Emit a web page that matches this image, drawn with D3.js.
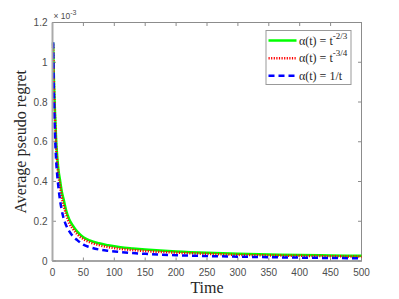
<!DOCTYPE html>
<html>
<head>
<meta charset="utf-8">
<script src="https://cdn.jsdelivr.net/npm/d3@7"></script>
<style>
	body { margin: 0; background: #fff; }
	.tick-label { font-family: 'Liberation Sans', Arial, sans-serif; font-size: 10px; fill: #4d4d4d; }
	.axis-title { font-family: 'Liberation Serif', 'Times New Roman', serif; font-size: 16px; fill: #262626; }
	.legend-text { font-family: 'Liberation Serif', 'Times New Roman', serif; font-size: 12px; fill: #262626; }
</style>
</head>
<body>
<script>
// time steps where values were read
var times = [1, 2, 3, 4, 6, 8, 10, 12, 15, 18, 22, 27, 33, 40, 50, 60, 75, 90, 110, 130, 150, 200, 250, 300, 350, 400, 450, 500];
// average pseudo regret (x 1e-3)
var regretT23 = [1.10, 0.95, 0.84, 0.75, 0.60, 0.51, 0.45, 0.41, 0.35, 0.31, 0.255, 0.21, 0.178, 0.148, 0.120, 0.104, 0.089, 0.079, 0.069, 0.063, 0.058, 0.048, 0.041, 0.036, 0.033, 0.030, 0.028, 0.026];
var regretT34 = [1.09, 0.93, 0.81, 0.72, 0.57, 0.48, 0.42, 0.38, 0.32, 0.28, 0.235, 0.19, 0.162, 0.135, 0.110, 0.095, 0.080, 0.070, 0.061, 0.055, 0.050, 0.042, 0.036, 0.031, 0.028, 0.026, 0.024, 0.022];
var regret1t = [1.10, 0.88, 0.74, 0.64, 0.50, 0.42, 0.36, 0.31, 0.255, 0.215, 0.18, 0.15, 0.125, 0.105, 0.082, 0.070, 0.058, 0.051, 0.045, 0.040, 0.036, 0.029, 0.025, 0.022, 0.019, 0.017, 0.015, 0.014];
var xTicks = [0, 50, 100, 150, 200, 250, 300, 350, 400, 450, 500];
var yTicks = [0, 0.2, 0.4, 0.6, 0.8, 1, 1.2];
var seriesNames = ['-2/3', '-3/4', null];

(function () {
	var width = 399, height = 299;
	var plotLeft = 52.5, plotRight = 361.5, plotTop = 22.5, plotBottom = 261;
	var tickLen = 3.5;

	var svg = d3.select('body').append('svg')
		.attr('width', width)
		.attr('height', height);

	var x = d3.scaleLinear().domain([0, 500]).range([plotLeft, plotRight]);
	var y = d3.scaleLinear().domain([0, 1.2]).range([plotBottom, plotTop]);

	// axis box
	var axisColor = '#8c8c8c';
	svg.append('rect')
		.attr('x', plotLeft).attr('y', plotTop)
		.attr('width', plotRight - plotLeft).attr('height', plotBottom - plotTop)
		.attr('fill', 'none').attr('stroke', axisColor).attr('stroke-width', 1);

	// x ticks (bottom + top, pointing inwards)
	xTicks.forEach(function (t) {
		svg.append('line').attr('x1', x(t)).attr('x2', x(t)).attr('y1', plotBottom).attr('y2', plotBottom - tickLen)
			.attr('stroke', axisColor);
		svg.append('line').attr('x1', x(t)).attr('x2', x(t)).attr('y1', plotTop).attr('y2', plotTop + tickLen)
			.attr('stroke', axisColor);
		svg.append('text').attr('class', 'tick-label')
			.attr('x', x(t)).attr('y', plotBottom + 15)
			.attr('text-anchor', 'middle')
			.text(t);
	});

	// y ticks
	yTicks.forEach(function (v) {
		svg.append('line').attr('x1', plotLeft).attr('x2', plotLeft + tickLen).attr('y1', y(v)).attr('y2', y(v))
			.attr('stroke', axisColor);
		svg.append('line').attr('x1', plotRight).attr('x2', plotRight - tickLen).attr('y1', y(v)).attr('y2', y(v))
			.attr('stroke', axisColor);
		svg.append('text').attr('class', 'tick-label')
			.attr('x', plotLeft - 5).attr('y', y(v) + 3.5)
			.attr('text-anchor', 'end')
			.text(d3.format('~g')(v));
	});

	// exponent marker
	var expo = svg.append('text').attr('class', 'tick-label')
		.attr('x', plotLeft + 1).attr('y', plotTop - 4)
		.style('font-size', '8.5px');
	expo.append('tspan').text('\u00d7 10');
	expo.append('tspan').attr('dy', -3.5).style('font-size', '7px').text('-3');

	// axis titles
	svg.append('text').attr('class', 'axis-title')
		.attr('x', (plotLeft + plotRight) / 2).attr('y', 293)
		.attr('text-anchor', 'middle')
		.text('Time');
	svg.append('text').attr('class', 'axis-title')
		.attr('transform', 'translate(26,' + ((plotTop + plotBottom) / 2) + ') rotate(-90)')
		.attr('text-anchor', 'middle')
		.text('Average pseudo regret');

	// curves
	var line = d3.line()
		.x(function (d) { return x(d[0]); })
		.y(function (d) { return y(d[1]); })
		.curve(d3.curveMonotoneX);

	var styles = [
		{ values: regretT23, color: '#00ff00', dash: null },
		{ values: regretT34, color: '#ff0000', dash: '1.2,1.4' },
		{ values: regret1t, color: '#0000ff', dash: '6,4' }
	];

	styles.forEach(function (s) {
		var pts = times.map(function (t, i) { return [t, s.values[i]]; });
		svg.append('path')
			.attr('d', line(pts))
			.attr('fill', 'none')
			.attr('stroke', s.color)
			.attr('stroke-width', 2.5)
			.attr('stroke-dasharray', s.dash);
	});

	// left and bottom axis lines drawn over the curves
	svg.append('line').attr('x1', plotLeft).attr('x2', plotLeft).attr('y1', plotTop).attr('y2', plotBottom)
		.attr('stroke', '#aaa').attr('stroke-width', 2);
	svg.append('line').attr('x1', plotLeft).attr('x2', plotRight).attr('y1', plotBottom).attr('y2', plotBottom)
		.attr('stroke', '#999').attr('stroke-width', 1.5);

	// legend
	var lgX = 266, lgY = 30.5, lgW = 85, lgH = 54;
	svg.append('rect')
		.attr('x', lgX).attr('y', lgY).attr('width', lgW).attr('height', lgH)
		.attr('fill', '#fff').attr('stroke', '#999').attr('stroke-width', 1);

	var rowY = [40.5, 58.3, 75.7];
	styles.forEach(function (s, i) {
		svg.append('line')
			.attr('x1', 268.5).attr('x2', 296.5)
			.attr('y1', rowY[i]).attr('y2', rowY[i])
			.attr('stroke', s.color).attr('stroke-width', 2.5)
			.attr('stroke-dasharray', s.dash);
		var txt = svg.append('text').attr('class', 'legend-text')
			.attr('x', 299).attr('y', rowY[i] + 4);
		if (seriesNames[i]) {
			txt.append('tspan').text('\u03b1(t) = t');
			txt.append('tspan').attr('dy', -6).style('font-size', '9px').text(seriesNames[i]);
		} else {
			txt.append('tspan').text('\u03b1(t) = 1/t');
		}
	});
})();
</script>
</body>
</html>
